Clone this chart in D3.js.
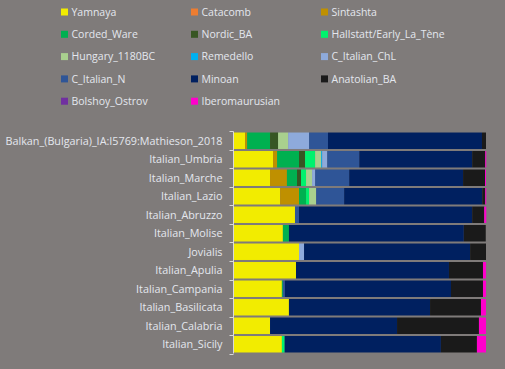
<!DOCTYPE html>
<html>
<head>
<meta charset="utf-8">
<script src="https://cdn.jsdelivr.net/npm/d3@7"></script>
<style>
  html, body { margin: 0; padding: 0; background: #7f7b7a; }
  svg { display: block; }
  text { font-family: "Open Sans", sans-serif; fill: #e4e7ee; }
</style>
</head>
<body>
<svg id="chart"></svg>
<script>
const samples = ["Balkan_(Bulgaria)_IA:I5769:Mathieson_2018", "Italian_Umbria", "Italian_Marche", "Italian_Lazio",
  "Italian_Abruzzo", "Italian_Molise", "Jovialis", "Italian_Apulia", "Italian_Campania",
  "Italian_Basilicata", "Italian_Calabria", "Italian_Sicily"];

const components = ["Yamnaya", "Catacomb", "Sintashta", "Corded_Ware", "Nordic_BA", "Hallstatt/Early_La_Tène",
  "Hungary_1180BC", "Remedello", "C_Italian_ChL", "C_Italian_N", "Minoan", "Anatolian_BA",
  "Bolshoy_Ostrov", "Iberomaurusian"];

const colors = ["#f2ec00", "#ed7d31", "#bf9000", "#00b050", "#375623", "#00f26d",
  "#a9d08e", "#00b0f0", "#8eaadb", "#2f5597", "#002060", "#1a1a1a",
  "#7030a0", "#ff00cc"];

// one array per component, values in %, in the order of samples
const Yamnaya        = [4.4, 15.5, 14.3, 18.3, 24.2, 19.4, 25.8, 24.6, 19.0, 21.8, 14.3, 19.0];
const Catacomb       = [0, 0, 0, 0, 0, 0, 0, 0, 0, 0, 0, 0];
const Sintashta      = [0.8, 1.6, 6.7, 7.5, 0, 0, 0, 0, 0, 0, 0, 0];
const Corded_Ware    = [9.1, 8.7, 4.0, 2.8, 0, 2.4, 0, 0, 0.4, 0, 0, 0];
const Nordic_BA      = [3.2, 2.4, 1.6, 0, 0, 0, 0, 0, 0, 0, 0, 0];
const Hallstatt      = [0, 4.0, 2.0, 1.2, 0, 0, 0, 0, 0, 0, 0, 1.1];
const Hungary_1180BC = [4.0, 2.4, 2.4, 2.8, 0, 0, 0, 0, 0, 0, 0, 0];
const Remedello      = [0, 0.4, 0, 0, 0, 0, 0, 0, 0, 0, 0, 0];
const C_Italian_ChL  = [8.3, 2.0, 1.2, 0, 0, 0, 2.0, 0, 0, 0, 0, 0];
const C_Italian_N    = [7.5, 12.7, 13.5, 11.1, 1.6, 0, 0, 0, 0.8, 0, 0, 0];
const Minoan         = [61.1, 44.8, 45.2, 54.8, 68.7, 69.4, 65.9, 60.7, 65.9, 56.0, 50.4, 62.0];
const Anatolian_BA   = [1.6, 5.2, 8.7, 1.2, 4.8, 8.7, 6.3, 13.5, 12.7, 20.2, 32.5, 14.3];
const Bolshoy_Ostrov = [0, 0, 0, 0, 0, 0, 0, 0, 0, 0, 0, 0];
const Iberomaurusian = [0, 0.4, 0.4, 0.4, 0.8, 0, 0, 1.2, 1.2, 2.0, 2.8, 3.6];

const series = [Yamnaya, Catacomb, Sintashta, Corded_Ware, Nordic_BA, Hallstatt, Hungary_1180BC,
  Remedello, C_Italian_ChL, C_Italian_N, Minoan, Anatolian_BA, Bolshoy_Ostrov, Iberomaurusian];

const W = 505, H = 369;
const svg = d3.select("#chart").attr("width", W).attr("height", H);

const table = samples.map((s, i) => {
  const row = { sample: s };
  components.forEach((c, j) => { row[c] = series[j][i]; });
  return row;
});

const stack = d3.stack().keys(components)(table);

const x = d3.scaleLinear().domain([0, 100]).range([234, 486]);
const y = d3.scaleBand().domain(samples).range([131.5, 353.5]).paddingInner(0.11).paddingOuter(0.055);

const color = d3.scaleOrdinal().domain(components).range(colors);

svg.append("g")
  .selectAll("g")
  .data(stack)
  .join("g")
  .attr("fill", d => color(d.key))
  .selectAll("rect")
  .data(d => d)
  .join("rect")
  .attr("x", d => x(d[0]))
  .attr("y", d => y(d.data.sample))
  .attr("width", d => Math.max(0, x(d[1]) - x(d[0])))
  .attr("height", y.bandwidth());

// y axis: ticks sit on the band boundaries
const yAxis = svg.append("g").attr("transform", "translate(233.5,0)");
yAxis.append("line")
  .attr("y1", 131.5).attr("y2", 353.5)
  .attr("stroke", "#d9d9d9");
const bounds = samples.map(s => y(s) - y.step() * y.paddingInner() / 2).concat([353.5]);
yAxis.selectAll("line.tick")
  .data(bounds)
  .join("line")
  .attr("class", "tick")
  .attr("x1", -4).attr("x2", 0)
  .attr("y1", d => Math.round(d) + 0.5).attr("y2", d => Math.round(d) + 0.5)
  .attr("stroke", "#d9d9d9");
yAxis.selectAll("text")
  .data(samples)
  .join("text")
  .attr("x", -11)
  .attr("y", d => y(d) + y.bandwidth() / 2)
  .attr("dy", "0.35em")
  .attr("text-anchor", "end")
  .attr("font-size", "10.8px")
  .text(d => d);

// legend in three columns
const legend = svg.append("g").selectAll("g")
  .data(components)
  .join("g")
  .attr("transform", (d, i) => `translate(${61 + (i % 3) * 130},${12 + Math.floor(i / 3) * 22.3})`);
legend.append("rect")
  .attr("x", 0).attr("y", -3.5)
  .attr("width", 7).attr("height", 7)
  .attr("fill", d => color(d));
legend.append("text")
  .attr("x", 10.5)
  .attr("dy", "0.35em")
  .attr("font-size", "10.5px")
  .text(d => d);
</script>
</body>
</html>
